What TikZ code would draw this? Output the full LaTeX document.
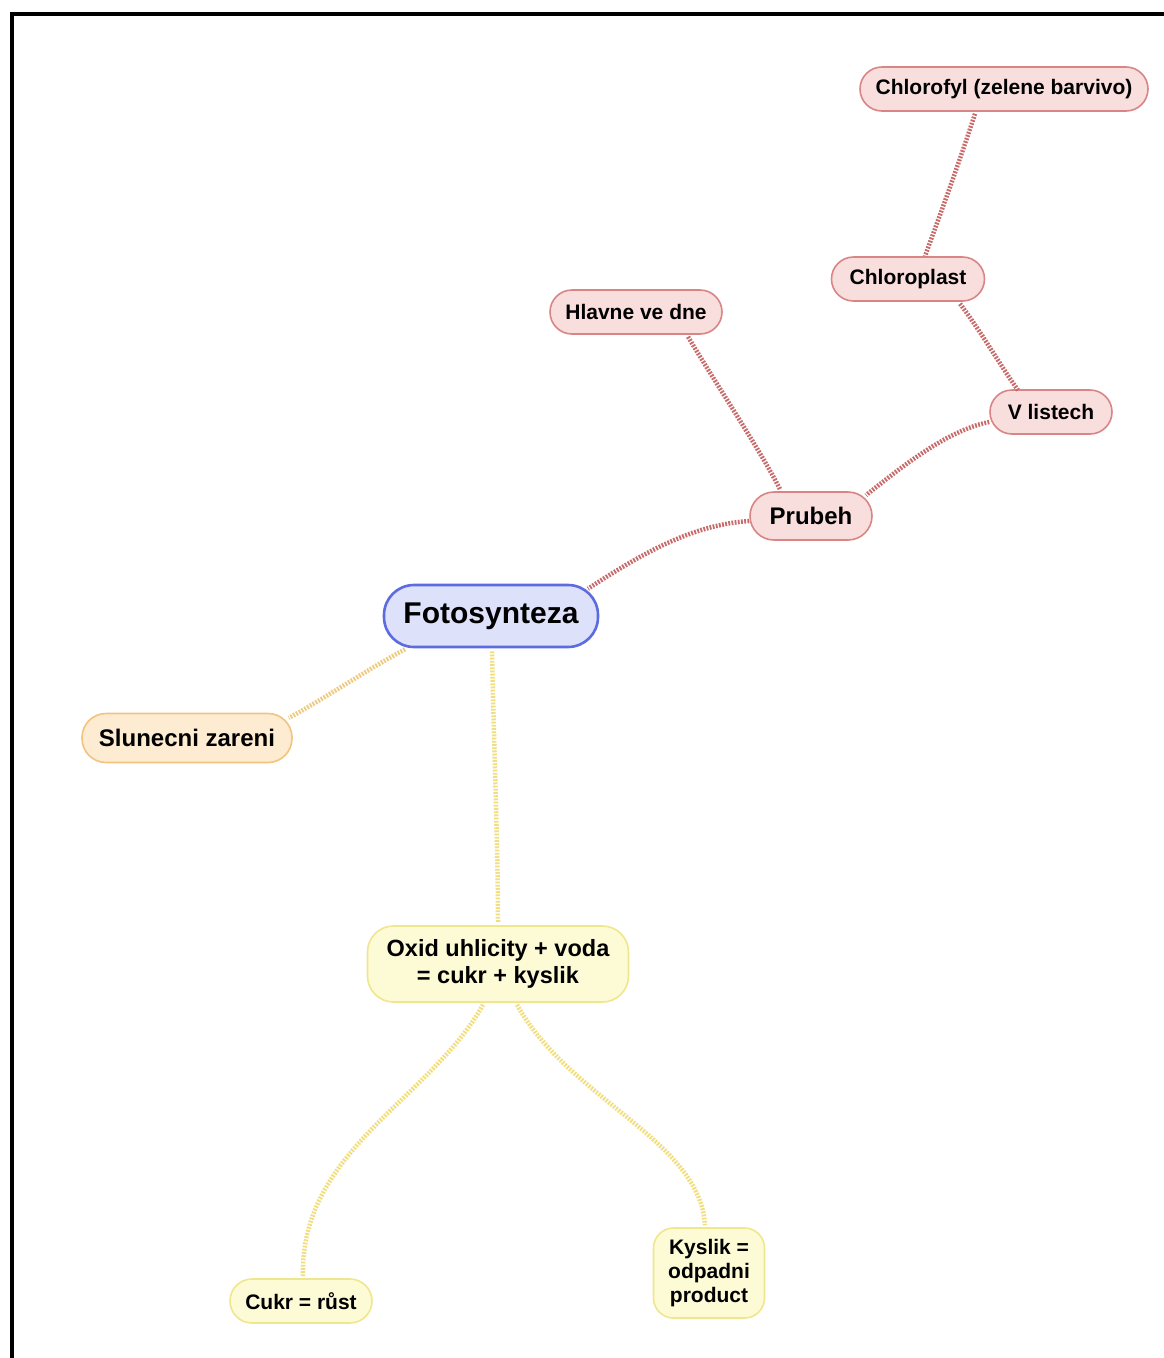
\documentclass[tikz,border=0pt]{standalone}
\usepackage{fontspec}
\setmainfont{Liberation Sans}
\definecolor{pinkfill}{HTML}{F9DEDE}
\definecolor{pinkdraw}{HTML}{DA8585}
\definecolor{pinkline}{HTML}{C96A6A}
\definecolor{bluefill}{HTML}{DEE1FA}
\definecolor{bluedraw}{HTML}{5C6CE0}
\definecolor{orfill}{HTML}{FDEBD2}
\definecolor{ordraw}{HTML}{F2C47E}
\definecolor{orline}{HTML}{EDCB80}
\definecolor{yefill}{HTML}{FDFBD6}
\definecolor{yedraw}{HTML}{F0E68E}
\definecolor{yeline}{HTML}{F2DE7C}
\tikzset{
  mm/.style={font=\bfseries\fontsize{21}{25}\selectfont, inner sep=0pt, align=center, line width=1.6pt},
  pinknode/.style={mm, fill=pinkfill, draw=pinkdraw, rounded corners=22pt, minimum height=44pt},
  yenode/.style={mm, fill=yefill, draw=yedraw, rounded corners=20pt},
  conn/.style={line width=4.5pt, dash pattern=on 1.8pt off 1.4pt},
  redconn/.style={conn, draw=pinkline},
  yeconn/.style={conn, draw=yeline},
  orconn/.style={conn, draw=orline},
}
\begin{document}
\begin{tikzpicture}[x=1pt,y=-1pt]
\useasboundingbox (0,0) rectangle (1163,1358);
\fill[white] (0,0) rectangle (1163,1358);
\draw[line width=4.5pt] (12,1360) -- (12,14) -- (1165,14);

\node[pinknode, minimum width=288pt] (chl) at (1004,89) {Chlorofyl (zelene barvivo)};
\node[pinknode, minimum width=153pt] (chp) at (908,279) {Chloroplast};
\node[pinknode, minimum width=172pt] (hl) at (636,312) {Hlavne ve dne};
\node[pinknode, minimum width=122pt] (vl) at (1051,412) {V listech};
\node[pinknode, minimum width=122pt, minimum height=48pt, rounded corners=24pt, font=\bfseries\fontsize{24}{28}\selectfont] (pr) at (811,516) {Prubeh};
\node[mm, fill=bluefill, draw=bluedraw, line width=2.6pt, minimum width=214pt, minimum height=62pt, rounded corners=30pt, font=\bfseries\fontsize{30}{34}\selectfont] (fo) at (491,616) {Fotosynteza};
\node[mm, fill=orfill, draw=ordraw, minimum width=210pt, minimum height=49pt, rounded corners=24pt, font=\bfseries\fontsize{24}{28}\selectfont] (sl) at (187,738) {Slunecni zareni};
\node[yenode, minimum width=261pt, minimum height=76pt, rounded corners=26pt, font=\bfseries\fontsize{23.5}{27}\selectfont] (ox) at (498,964) {Oxid uhlicity + voda\\= cukr + kyslik};
\node[yenode, minimum width=142pt, minimum height=44pt, rounded corners=22pt] (ck) at (301,1301) {Cukr = růst};
\node[yenode, minimum width=111pt, minimum height=90pt, font=\bfseries\fontsize{21}{24}\selectfont] (ky) at (709,1273) {Kyslik =\\odpadni\\product};

\draw[redconn] ([xshift=-29pt,yshift=-2pt]chl.south) .. controls (960,160) and (940,215) .. ([xshift=17pt]chp.north);
\draw[redconn] ([xshift=52pt,yshift=-2pt]chp.south) .. controls (980,330) and (1000,365) .. ([xshift=-33pt,yshift=-1pt]vl.north);
\draw[redconn] ([yshift=-10pt]vl.west) .. controls (950,430) and (910,460) .. ([xshift=55pt,yshift=-4pt]pr.north);
\draw[redconn] ([xshift=52pt,yshift=-2pt]hl.south) .. controls (720,390) and (760,450) .. ([xshift=-31pt,yshift=2pt]pr.north);
\draw[redconn] ([yshift=-5pt]pr.west) .. controls (690,525) and (640,555) .. ([xshift=97pt,yshift=-5pt]fo.north);
\draw[orconn] ([xshift=-86pt,yshift=-1pt]fo.south) .. controls (370,668) and (330,695) .. ([xshift=-4pt,yshift=20pt]sl.east);
\draw[yeconn] ([xshift=1pt,yshift=-3pt]fo.south) .. controls (494,750) and (498,850) .. ([yshift=2pt]ox.north);
\draw[yeconn] ([xshift=-15pt,yshift=-2pt]ox.south) .. controls (430,1100) and (300,1150) .. ([xshift=2pt,yshift=2pt]ck.north);
\draw[yeconn] ([xshift=19pt,yshift=-2pt]ox.south) .. controls (570,1100) and (700,1140) .. ([xshift=-4pt,yshift=2pt]ky.north);
\end{tikzpicture}
\end{document}
